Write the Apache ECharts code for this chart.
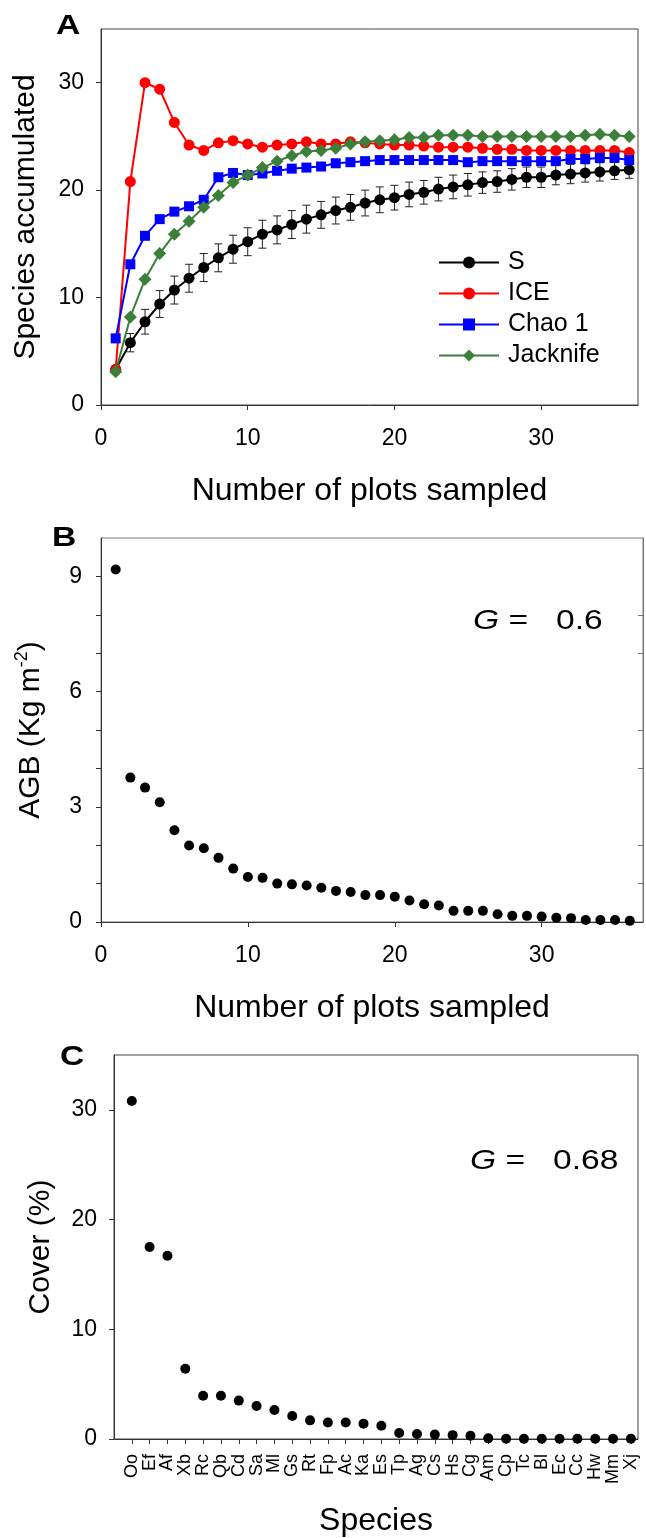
<!DOCTYPE html>
<html>
<head>
<meta charset="utf-8">
<script src="https://cdn.jsdelivr.net/npm/echarts@6/dist/echarts.min.js"></script>
<style>
  html, body { margin: 0; padding: 0; background: #fff; }
  #chart { width: 646px; height: 1538px; }
</style>
</head>
<body>
<div id="chart"></div>
<script>
const FONT = '"Liberation Sans", Arial, sans-serif'

// panel A: species accumulation
const plotsSampled = [1, 2, 3, 4, 5, 6, 7, 8, 9, 10, 11, 12, 13, 14, 15, 16, 17, 18,
  19, 20, 21, 22, 23, 24, 25, 26, 27, 28, 29, 30, 31, 32, 33, 34, 35, 36]
const sObs = [3.3, 5.8, 7.75, 9.4, 10.7, 11.8, 12.8, 13.7, 14.5, 15.2, 15.9, 16.3, 16.8, 17.3, 17.7, 18.1, 18.4, 18.8,
  19.1, 19.3, 19.6, 19.8, 20.1, 20.3, 20.5, 20.7, 20.8, 21.0, 21.2, 21.2, 21.4, 21.5, 21.6, 21.7, 21.8, 21.9]
const sErr = [0.35, 0.85, 1.15, 1.25, 1.3, 1.3, 1.3, 1.3, 1.3, 1.3, 1.3, 1.3, 1.3, 1.3, 1.25, 1.25, 1.2, 1.2,
  1.2, 1.15, 1.15, 1.1, 1.1, 1.1, 1.05, 1.0, 1.0, 1.0, 0.95, 0.95, 0.9, 0.9, 0.85, 0.85, 0.8, 0.8]
const ice = [3.3, 20.8, 30.0, 29.4, 26.3, 24.2, 23.7, 24.4, 24.6, 24.3, 24.0, 24.2, 24.3, 24.5, 24.3, 24.3, 24.5, 24.4,
  24.3, 24.2, 24.2, 24.1, 24.0, 24.0, 24.0, 23.9, 23.8, 23.8, 23.7, 23.7, 23.7, 23.7, 23.7, 23.7, 23.7, 23.5]
const chao1 = [6.2, 13.1, 15.75, 17.3, 18.0, 18.5, 19.1, 21.2, 21.6, 21.4, 21.55, 21.8, 22.0, 22.1, 22.2, 22.5, 22.6, 22.7,
  22.8, 22.8, 22.8, 22.8, 22.8, 22.8, 22.6, 22.7, 22.7, 22.7, 22.7, 22.7, 22.7, 22.9, 22.9, 23.0, 23.0, 22.8]
const jacknife = [3.1, 8.2, 11.7, 14.1, 15.9, 17.1, 18.4, 19.5, 20.7, 21.4, 22.1, 22.7, 23.2, 23.6, 23.7, 23.9, 24.3, 24.5,
  24.6, 24.7, 24.9, 24.9, 25.1, 25.1, 25.1, 25.0, 25.0, 25.0, 25.0, 25.0, 25.0, 25.0, 25.1, 25.2, 25.1, 25.0]

// panel B: AGB per plot
const agb = [9.18, 3.76, 3.5, 3.12, 2.39, 1.99, 1.92, 1.67, 1.39, 1.17, 1.15, 1.0, 0.98, 0.95, 0.89, 0.81, 0.78, 0.7,
  0.7, 0.66, 0.56, 0.46, 0.43, 0.29, 0.29, 0.29, 0.2, 0.16, 0.16, 0.14, 0.11, 0.1, 0.05, 0.05, 0.05, 0.03]

// panel C: cover by species
const species = ['Oo', 'Ef', 'Af', 'Xb', 'Rc', 'Qb', 'Cd', 'Sa', 'Ml', 'Gs', 'Rt', 'Fp', 'Ac', 'Ka', 'Es',
  'Tp', 'Ag', 'Cs', 'Hs', 'Cg', 'Am', 'Cp', 'Tc', 'Bl', 'Ec', 'Cc', 'Hw', 'Mm', 'Xj']
const cover = [30.8, 17.5, 16.7, 6.4, 3.95, 3.95, 3.5, 3.0, 2.65, 2.1, 1.7, 1.5, 1.5, 1.4, 1.2,
  0.55, 0.45, 0.4, 0.35, 0.3, 0.06, 0.02, 0.02, 0.02, 0.02, 0.02, 0.02, 0.02, 0.02]
const speciesPos = [1, 2, 3, 4, 5, 6, 7, 8, 9, 10, 11, 12, 13, 14, 15,
  16, 17, 18, 19, 20, 21, 22, 23, 24, 25, 26, 27, 28, 29]

const xTicks = [0, 10, 20, 30]

const chart = echarts.init(document.getElementById('chart'), null, { renderer: 'canvas' })

const axisLine = { show: true, lineStyle: { color: '#333', width: 1 } }
const tick = (vals, len = 5) => ({ show: true, length: len, lineStyle: { color: '#333' }, customValues: vals })
const tickLabel = (vals, margin) => ({ fontSize: 23, color: '#000', fontFamily: FONT, margin: margin, customValues: vals })
const nameStyle = { fontSize: 32, color: '#000', fontFamily: FONT }
const vNameStyle = { fontSize: 30, color: '#000', fontFamily: FONT }

function errorBars(params, api) {
  const x = api.value(0), y = api.value(1), e = api.value(2)
  const top = api.coord([x, y + e])
  const bot = api.coord([x, y - e])
  const style = { stroke: '#222', lineWidth: 1 }
  return {
    type: 'group',
    children: [
      { type: 'line', shape: { x1: top[0], y1: top[1], x2: bot[0], y2: bot[1] }, style },
      { type: 'line', shape: { x1: top[0] - 4, y1: top[1], x2: top[0] + 4, y2: top[1] }, style },
      { type: 'line', shape: { x1: bot[0] - 4, y1: bot[1], x2: bot[0] + 4, y2: bot[1] }, style },
    ],
  }
}

const pair = (xs, ys) => xs.map((x, i) => [x, ys[i]])

// panel letters and G labels look a bit wide in the original, so stretch them
const wideText = (text, x, y, font) => ({
  type: 'text', x, y, scaleX: 1.2,
  style: {
    text, font, fill: '#000',
    rich: { i: { fontStyle: 'italic', fontSize: 28, fontFamily: FONT } },
  },
})

const option = {
  animation: false,
  backgroundColor: '#fff',
  textStyle: { fontFamily: FONT },
  grid: [
    { left: 101, top: 29, width: 537, height: 376, show: true, borderColor: '#444', borderWidth: 1 },
    { left: 101, top: 538, width: 542, height: 384, show: true, borderColor: '#777', borderWidth: 1 },
    { left: 114, top: 1055, width: 524, height: 385, show: true, borderColor: '#444', borderWidth: 1 },
  ],
  xAxis: [
    {
      gridIndex: 0, type: 'value', min: 0, max: 36.6, interval: 10,
      axisLine, axisTick: tick(xTicks), splitLine: { show: false },
      axisLabel: tickLabel(xTicks, 22),
      name: 'Number of plots sampled', nameLocation: 'middle', nameGap: 70, nameTextStyle: nameStyle,
    },
    {
      gridIndex: 1, type: 'value', min: 0, max: 36.9, interval: 10,
      axisLine, axisTick: tick(xTicks), splitLine: { show: false },
      axisLabel: tickLabel(xTicks, 22),
      name: 'Number of plots sampled', nameLocation: 'middle', nameGap: 70, nameTextStyle: nameStyle,
    },
    {
      gridIndex: 2, type: 'value', min: 0, max: 29.4, interval: 1,
      axisLine, axisTick: tick(speciesPos), splitLine: { show: false },
      axisLabel: {
        customValues: speciesPos, rotate: 90, fontSize: 18, color: '#000', margin: 15,
        formatter: v => species[v - 1] || '',
      },
      name: 'Species', nameLocation: 'middle', nameGap: 66, nameTextStyle: nameStyle,
    },
  ],
  yAxis: [
    {
      gridIndex: 0, type: 'value', min: 0, max: 35, interval: 10,
      axisLine, axisTick: tick([0, 10, 20, 30]), splitLine: { show: false },
      axisLabel: tickLabel([0, 10, 20, 30], 17),
      name: 'Species accumulated', nameLocation: 'middle', nameGap: 60, nameTextStyle: vNameStyle,
    },
    {
      gridIndex: 1, type: 'value', min: 0, max: 10, interval: 1,
      axisLine, axisTick: tick([0, 1, 2, 3, 4, 5, 6, 7, 8, 9]), splitLine: { show: false },
      axisLabel: tickLabel([0, 3, 6, 9], 19),
      name: 'AGB (Kg m{sup|-2})', nameLocation: 'middle', nameGap: 52,
      nameTextStyle: {
        ...vNameStyle, lineHeight: 36,
        rich: { sup: { fontSize: 18, lineHeight: 36, verticalAlign: 'top', color: '#000' } },
      },
    },
    {
      gridIndex: 1, type: 'value', position: 'right', min: 0, max: 10, interval: 1,
      axisLine: { show: true, lineStyle: { color: '#777' } },
      axisTick: { show: true, inside: true, length: 5, lineStyle: { color: '#777' }, customValues: [1, 2, 4, 5, 7, 8] },
      axisLabel: { show: false }, splitLine: { show: false },
    },
    {
      gridIndex: 2, type: 'value', min: 0, max: 35, interval: 10,
      axisLine, axisTick: tick([0, 10, 20, 30]), splitLine: { show: false },
      axisLabel: tickLabel([0, 10, 20, 30], 17),
      name: 'Cover (%)', nameLocation: 'middle', nameGap: 58, nameTextStyle: vNameStyle,
    },
  ],
  legend: {
    data: ['S', 'ICE', 'Chao 1', 'Jacknife'],
    orient: 'vertical', left: 433, top: 245,
    itemWidth: 60, itemHeight: 15, itemGap: 6,
    textStyle: { fontSize: 25, color: '#000', fontFamily: FONT, padding: [0, 0, 0, 4] },
  },
  graphic: [
    wideText('A', 56, 12, 'bold 28px ' + FONT),
    wideText('B', 52, 524, 'bold 28px ' + FONT),
    wideText('C', 60, 1043, 'bold 28px ' + FONT),
    wideText('{i|G} =   0.6', 473, 607, '28px ' + FONT),
    wideText('{i|G} =   0.68', 470, 1147, '28px ' + FONT),
  ],
  series: [
    {
      type: 'custom', xAxisIndex: 0, yAxisIndex: 0, renderItem: errorBars, z: 1,
      data: plotsSampled.map((x, i) => [x, sObs[i], sErr[i]]),
    },
    {
      name: 'S', type: 'line', xAxisIndex: 0, yAxisIndex: 0, z: 2,
      data: pair(plotsSampled, sObs), symbol: 'circle', symbolSize: 11,
      lineStyle: { color: '#000', width: 2 }, itemStyle: { color: '#000' },
    },
    {
      name: 'ICE', type: 'line', xAxisIndex: 0, yAxisIndex: 0, z: 3,
      data: pair(plotsSampled, ice), symbol: 'circle', symbolSize: 11,
      lineStyle: { color: '#ff0000', width: 2 }, itemStyle: { color: '#ff0000' },
    },
    {
      name: 'Chao 1', type: 'line', xAxisIndex: 0, yAxisIndex: 0, z: 4,
      data: pair(plotsSampled, chao1), symbol: 'rect', symbolSize: 10,
      lineStyle: { color: '#0000ff', width: 2 }, itemStyle: { color: '#0000ff' },
    },
    {
      name: 'Jacknife', type: 'line', xAxisIndex: 0, yAxisIndex: 0, z: 5,
      data: pair(plotsSampled, jacknife), symbol: 'diamond', symbolSize: 13,
      lineStyle: { color: '#3b7f3b', width: 2 }, itemStyle: { color: '#3b7f3b' },
    },
    {
      type: 'scatter', xAxisIndex: 1, yAxisIndex: 1,
      data: pair(plotsSampled, agb), symbol: 'circle', symbolSize: 10, itemStyle: { color: '#000', opacity: 1 },
    },
    {
      type: 'scatter', xAxisIndex: 2, yAxisIndex: 3,
      data: pair(speciesPos, cover), symbol: 'circle', symbolSize: 10, itemStyle: { color: '#000', opacity: 1 },
    },
  ],
}

chart.setOption(option)
</script>
</body>
</html>
